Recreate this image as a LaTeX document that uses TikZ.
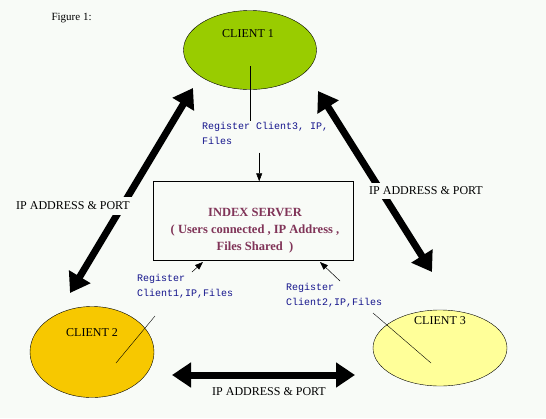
\documentclass[tikz,border=0pt]{standalone}
\usepackage{fontspec}
\setmainfont{Liberation Serif}
\setmonofont{Liberation Mono}
\usetikzlibrary{arrows.meta,positioning,shapes.geometric}

\definecolor{bgpaper}{RGB}{248,251,247}
\definecolor{clientgreen}{RGB}{153,204,0}
\definecolor{clientgold}{RGB}{247,200,0}
\definecolor{clientpale}{RGB}{255,255,153}
\definecolor{servertext}{RGB}{128,52,88}
\definecolor{regblue}{RGB}{20,20,140}

\begin{document}
\begin{tikzpicture}[
  x=1pt, y=-1pt,
  font=\fontsize{12}{14}\selectfont,
  client/.style={draw, ellipse, inner sep=0pt},
  cname/.style={font=\fontsize{12}{14}\selectfont},
  server/.style={draw, minimum width=200pt, minimum height=79pt},
  stext/.style={font=\bfseries\fontsize{12.5}{17}\selectfont, text=servertext, align=center},
  reg/.style={font=\ttfamily\fontsize{10}{15}\selectfont, text=regblue, align=left, inner sep=1pt},
  fat/.style={{Triangle[length=19pt,width=24pt]}-{Triangle[length=19pt,width=24pt]}, line width=7pt},
  thinarr/.style={-{Triangle[length=8pt,width=6pt]}, line width=0.5pt},
  lbl/.style={font=\fontsize{12}{14}\selectfont, inner sep=2pt},
]

% paper and frame of the picture
\fill[bgpaper] (0,0) rectangle (546,418);
\useasboundingbox (0,0) rectangle (546,418);

\node[anchor=west, font=\fontsize{11}{13}\selectfont] (fig) at (48,18) {Figure 1:};

%% ---------- clients ----------
\node[client, fill=clientgreen, minimum width=133pt, minimum height=79pt] (c1) at (250,50) {};
\node[cname] (c1name) at (248,34) {CLIENT 1};

\node[client, fill=clientgold, minimum width=124pt, minimum height=91pt] (c2) at (92,352) {};
\node[cname] (c2name) at (92,333) {CLIENT 2};

\node[client, fill=clientpale, minimum width=134pt, minimum height=76pt] (c3) at (440,348) {};
\node[cname] (c3name) at (440,321) {CLIENT 3};

%% ---------- index server ----------
\node[server] (srv) at (253,221) {};
\node[stext] (srvtext) at (255,231) {INDEX SERVER\\( Users connected , IP Address ,\\Files Shared\ \ )};

%% ---------- registration labels ----------
\node[reg, anchor=north west] (reg3) at (201,121) {Register Client3, IP,\\Files};
\node[reg, anchor=north west] (reg1) at (136,273) {Register\\Client1,IP,Files};
\node[reg, anchor=north west] (reg2) at (285,282) {Register\\Client2,IP,Files};

\coordinate (c1in) at (250,66);
\coordinate (c2in) at (116,363);
\coordinate (c2out) at (155,316);
\coordinate (c3in) at (431,363);
\coordinate (c3out) at (373,313);
\coordinate (r1tip) at (192,272);
\coordinate (r2tip) at (340,281);

\draw (c1in) -- (reg3.north -| c1in);
\draw[thinarr] ([xshift=-6pt,yshift=-7pt]reg3.south) -- ([xshift=-6pt]reg3.south |- srv.north);

\draw (c2in) -- (c2out);
\draw[thinarr] (r1tip) -- (203,262);

\draw (c3in) -- (c3out);
\draw[thinarr] (r2tip) -- (320,262);

%% ---------- peer links ----------
\coordinate (l1a) at (193,88);
\coordinate (l1b) at (70,293);
\coordinate (l2a) at (318,91);
\coordinate (l2b) at (432,272);
\coordinate (l3a) at (172,375);
\coordinate (l3b) at (355,375);

\draw[fat] (l1b) -- (l1a);
\draw[fat] (l2a) -- (l2b);
\draw[fat] (l3a) -- (l3b);

\node[lbl, fill=bgpaper, inner ysep=5pt] (ipleft) at (73,206) {IP ADDRESS \& PORT};
\node[lbl, fill=bgpaper, inner ysep=4pt] (ipright) at (426,191) {IP ADDRESS \& PORT};
\node[lbl] (ipbottom) at (269,392) {IP ADDRESS \& PORT};

\end{tikzpicture}
\end{document}
